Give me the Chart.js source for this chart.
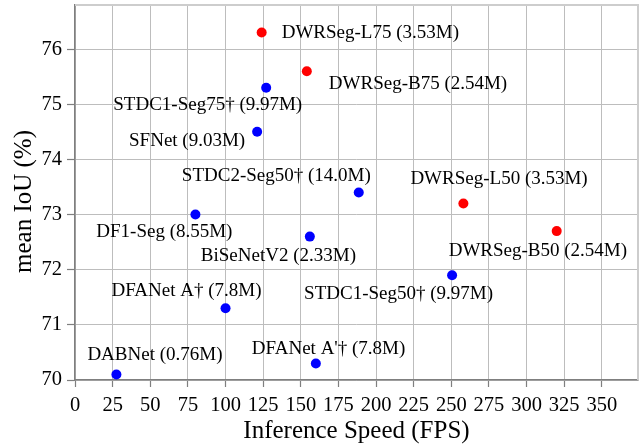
<!DOCTYPE html>
<html>
<head>
<meta charset="utf-8">
<script src="https://cdn.jsdelivr.net/npm/chart.js@4.4.1/dist/chart.umd.min.js"></script>
<style>
  html, body { margin: 0; padding: 0; background: #ffffff; }
  #wrap { width: 643px; height: 448px; position: relative; }
</style>
</head>
<body>
<div id="wrap"><canvas id="c" width="643" height="448"></canvas></div>
<script>
// ---- Data ----
const oursNames = ['DWRSeg-L75 (3.53M)', 'DWRSeg-B75 (2.54M)', 'DWRSeg-L50 (3.53M)', 'DWRSeg-B50 (2.54M)'];
const oursFps   = [124, 154, 258, 320];
const oursMiou  = [76.3, 75.6, 73.2, 72.7];

const otherNames = ['STDC1-Seg75\u2020 (9.97M)', 'SFNet (9.03M)', 'STDC2-Seg50\u2020 (14.0M)', 'DF1-Seg (8.55M)',
                    'BiSeNetV2 (2.33M)', 'STDC1-Seg50\u2020 (9.97M)', 'DFANet A\u2020 (7.8M)', "DFANet A'\u2020 (7.8M)", 'DABNet (0.76M)'];
const otherFps   = [127, 121, 188.5, 80, 156, 250.5, 100, 160, 27.5];
const otherMiou  = [75.3, 74.5, 73.4, 73.0, 72.6, 71.9, 71.3, 70.3, 70.1];

const xTicks = [0, 25, 50, 75, 100, 125, 150, 175, 200, 225, 250, 275, 300, 325, 350];
const yTicks = [70, 71, 72, 73, 74, 75, 76];

const xTitle = 'Inference Speed (FPS)';
const yTitle = 'mean IoU (%)';

// ---- Label placement (pixel offsets from each point; style, not data) ----
const oursLabelPos = [
  {dx: 20, dy: 0, align: 'left'},
  {dx: 22, dy: 13, align: 'left'},
  {dx: -53, dy: -25, align: 'left'},
  {dx: -108, dy: 20, align: 'left'}
];
const otherLabelPos = [
  {dx: 36, dy: 17, align: 'right'},
  {dx: -12, dy: 9, align: 'right'},
  {dx: 12, dy: -16, align: 'right'},
  {dx: 37, dy: 17, align: 'right'},
  {dx: -109, dy: 19, align: 'left'},
  {dx: -148, dy: 19, align: 'left'},
  {dx: 36, dy: -17, align: 'right'},
  {dx: -64, dy: -14, align: 'left'},
  {dx: -29, dy: -19, align: 'left'}
];

const SERIF = '"Liberation Serif", "Times New Roman", serif';

const toPoints = (xs, ys) => xs.map((v, i) => ({x: v, y: ys[i]}));

const labelPlugin = {
  id: 'labelPlugin',
  afterDatasetsDraw(chart) {
    const {ctx, chartArea, scales: {x, y}} = chart;
    ctx.save();
    // top & right frame
    ctx.strokeStyle = '#cdcdcd';
    ctx.lineWidth = 2;
    ctx.beginPath();
    ctx.moveTo(chartArea.left, chartArea.top);
    ctx.lineTo(chartArea.right, chartArea.top);
    ctx.lineTo(chartArea.right, chartArea.bottom);
    ctx.stroke();
    // point labels
    ctx.font = '19px ' + SERIF;
    ctx.fillStyle = '#000000';
    ctx.textBaseline = 'middle';
    chart.data.datasets.forEach(ds => {
      ds.data.forEach((p, i) => {
        const pos = ds.labelPos[i];
        const px = x.getPixelForValue(p.x);
        const py = y.getPixelForValue(p.y);
        ctx.textAlign = pos.align;
        ctx.fillText(ds.names[i], px + pos.dx, py + pos.dy);
      });
    });
    // y-axis title (rotated)
    ctx.font = '25px ' + SERIF;
    ctx.textAlign = 'center';
    ctx.textBaseline = 'middle';
    ctx.translate(24.5, (chartArea.top + chartArea.bottom) / 2 + 9);
    ctx.rotate(-Math.PI / 2);
    ctx.fillText(yTitle, 0, 0);
    ctx.restore();
  }
};

new Chart(document.getElementById('c'), {
  type: 'scatter',
  data: {
    datasets: [
      {
        label: 'Others',
        data: toPoints(otherFps, otherMiou),
        names: otherNames,
        labelPos: otherLabelPos,
        backgroundColor: '#0000ff',
        borderColor: '#0000ff',
        pointRadius: 5,
        pointBorderWidth: 0
      },
      {
        label: 'DWRSeg',
        data: toPoints(oursFps, oursMiou),
        names: oursNames,
        labelPos: oursLabelPos,
        backgroundColor: '#ff0000',
        borderColor: '#ff0000',
        pointRadius: 5,
        pointBorderWidth: 0
      }
    ]
  },
  options: {
    responsive: false,
    animation: false,
    devicePixelRatio: 1,
    layout: { padding: {left: 0, right: 3, top: 5, bottom: 0} },
    plugins: { legend: {display: false}, tooltip: {enabled: false} },
    scales: {
      x: {
        type: 'linear',
        min: 0,
        max: 374,
        afterBuildTicks: s => { s.ticks = xTicks.map(v => ({value: v})); },
        afterFit: s => { s.height = 68; s.paddingLeft = 0; s.paddingRight = 0; },
        ticks: {
          color: '#000', font: {family: SERIF, size: 20.5}, padding: 6,
          maxRotation: 0, autoSkip: false
        },
        grid: {
          color: '#bdbdbd', lineWidth: 1, borderDash: [1.5, 1.5],
          drawTicks: true, tickLength: 7, tickColor: '#7f7f7f', tickBorderDash: [], tickWidth: 1.2
        },
        border: { display: true, color: '#7f7f7f', width: 1.5 },
        title: {
          display: true, text: xTitle, color: '#000',
          font: {family: SERIF, size: 25}, padding: {top: 0, bottom: 2}
        }
      },
      y: {
        type: 'linear',
        min: 70,
        max: 76.8,
        afterBuildTicks: s => { s.ticks = yTicks.map(v => ({value: v})); },
        afterFit: s => { s.width = 75; s.paddingTop = 0; s.paddingBottom = 0; },
        ticks: {
          color: '#000', font: {family: SERIF, size: 20.5}, padding: 5
        },
        grid: {
          color: '#bdbdbd', lineWidth: 1, borderDash: [1.5, 1.5],
          drawTicks: true, tickLength: 8, tickColor: '#7f7f7f', tickBorderDash: [], tickWidth: 1.2
        },
        border: { display: true, color: '#7f7f7f', width: 1.5 },
        title: { display: false }
      }
    }
  },
  plugins: [labelPlugin]
});
</script>
</body>
</html>
